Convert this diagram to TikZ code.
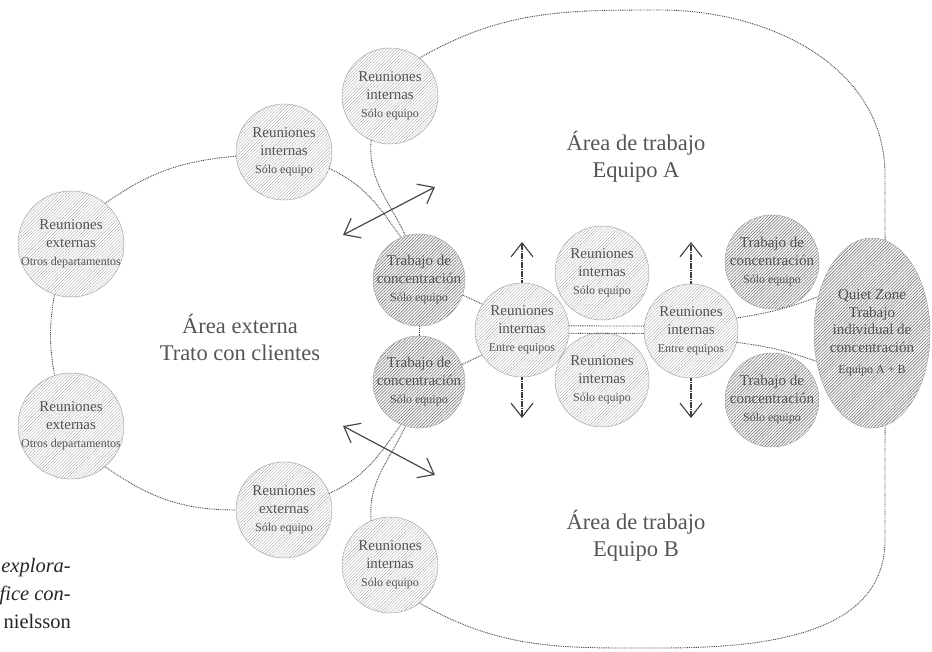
\documentclass[tikz,border=0pt]{standalone}
\usepackage{fontspec}
\setmainfont{Liberation Serif}
\usetikzlibrary{arrows.meta,patterns.meta,shapes.geometric}
\definecolor{txt}{HTML}{555555}
\definecolor{lnc}{HTML}{484848}
\definecolor{arc}{HTML}{3C3C3C}
\newcommand\smtxt{\fontsize{12}{14}\selectfont}
\tikzset{
  basec/.style={circle, draw=black!35, line width=0.5pt, inner sep=0pt},
  lc/.style={basec, pattern={Lines[angle=45,distance=2.2pt,line width=0.4pt]}, pattern color=black!32},
  dc/.style={basec, pattern={Lines[angle=45,distance=2.2pt,line width=0.75pt]}, pattern color=black!48},
  ct/.style={align=center, text=txt, font=\fontsize{15}{18}\selectfont, inner sep=0pt},
  ttl/.style={align=center, text=txt, font=\fontsize{22.5}{27}\selectfont, inner sep=0pt},
  captxt/.style={text=black!85, font=\fontsize{20.5}{24}\selectfont, inner sep=0pt},
  dotl/.style={draw=lnc, line width=0.9pt, dash pattern=on 0.9pt off 0.9pt},
  varr/.style={draw=arc, line width=1.4pt, dash pattern=on 1.3pt off 0.5pt, -{Straight Barb[length=14pt,width=22pt,line width=1.1pt]}},
  darr/.style={draw=lnc, line width=1.2pt, {Straight Barb[length=14pt,width=22pt]}-{Straight Barb[length=14pt,width=22pt]}},
}
\begin{document}
\begin{tikzpicture}[x=1pt,y=1pt]
\useasboundingbox (0,0) rectangle (932,651);

% circles
\node[lc, minimum size=106pt] (ro1) at (71,407) {};
\node[lc, minimum size=106pt] (ro2) at (71,225) {};
\node[lc, minimum size=96pt] (ril) at (284,499) {};
\node[lc, minimum size=96pt] (rel) at (284,141) {};
\node[lc, minimum size=96pt] (rt) at (390,555) {};
\node[lc, minimum size=96pt] (rb) at (390,86) {};
\node[dc, minimum size=92pt] (tc1) at (419,371) {};
\node[dc, minimum size=92pt] (tc2) at (419,269) {};
\node[lc, minimum size=94pt] (re1) at (522,321) {};
\node[lc, minimum size=94pt] (re2) at (691,320) {};
\node[lc, minimum size=94pt] (rc1) at (602,378) {};
\node[lc, minimum size=94pt] (rc2) at (602,271) {};
\node[dc, minimum size=94pt] (tc3) at (772,389) {};
\node[dc, minimum size=94pt] (tc4) at (772,251) {};
\node[dc, ellipse, minimum width=116pt, minimum height=190pt] (qz) at (872,318) {};

% texts in circles
\node[ct] (ro1t) at (ro1) {Reuniones\\externas\\{\smtxt Otros departamentos}};
\node[ct] (ro2t) at (ro2) {Reuniones\\externas\\{\smtxt Otros departamentos}};
\node[ct] (rilt) at (ril) {Reuniones\\internas\\{\smtxt Sólo equipo}};
\node[ct] (relt) at (rel) {Reuniones\\externas\\{\smtxt Sólo equipo}};
\node[ct] (rtt) at (rt) {Reuniones\\internas\\{\smtxt Sólo equipo}};
\node[ct] (rbt) at (rb) {Reuniones\\internas\\{\smtxt Sólo equipo}};
\node[ct] (tc1t) at (tc1) {Trabajo de\\concentración\\{\smtxt Sólo equipo}};
\node[ct] (tc2t) at (tc2) {Trabajo de\\concentración\\{\smtxt Sólo equipo}};
\node[ct] (re1t) at (re1) {Reuniones\\internas\\{\smtxt Entre equipos}};
\node[ct] (re2t) at (re2) {Reuniones\\internas\\{\smtxt Entre equipos}};
\node[ct] (rc1t) at (rc1) {Reuniones\\internas\\{\smtxt Sólo equipo}};
\node[ct] (rc2t) at (rc2) {Reuniones\\internas\\{\smtxt Sólo equipo}};
\node[ct] (tc3t) at (tc3) {Trabajo de\\concentración\\{\smtxt Sólo equipo}};
\node[ct] (tc4t) at (tc4) {Trabajo de\\concentración\\{\smtxt Sólo equipo}};
\node[ct, font=\fontsize{15}{17.5}\selectfont] (qzt) at (qz) {Quiet Zone\\Trabajo\\individual de\\concentración\\[4pt]{\smtxt Equipo A + B}};

% area titles
\node[ttl] (ae) at (240,314) {Área externa\\Trato con clientes};
\node[ttl] (aa) at (636,494) {Área de trabajo\\Equipo A};
\node[ttl] (ab) at (636,115) {Área de trabajo\\Equipo B};

% caption fragment
\node[captxt, anchor=base east] (c1) at (71,78) {\itshape explora-};
\node[captxt, anchor=base east] (c2) at (71,51) {\itshape fice con-};
\node[captxt, anchor=base east] (c3) at (71,23) {nielsson};

% dotted connectors (outer ring)
\draw[dotl] (ril.185) to[out=185,in=35] (ro1.50);
\draw[dotl] (ro1.-108) to[out=-100,in=100] (ro2.108);
\draw[dotl] (ro2.-50) to[out=-35,in=180] (rel.180);
\draw[dotl] (ril.-20) to[out=-25,in=125] (tc1.113);
\draw[dotl] (rt.-113) to[out=-95,in=115] (tc1.107);
\draw[dotl] (rel.20) to[out=25,in=-125] (tc2.-113);
\draw[dotl] (rb.113) to[out=95,in=-115] (tc2.-107);
\draw[dotl] (tc1.south) -- (tc2.north);
\draw[dotl] (tc1.-19) -- (re1.147);
\draw[dotl] (tc2.22) -- (re1.-148);
\draw[dotl] (re1.5) -- (re2.174);
\draw[dotl] (re1.-4) -- (re2.-177);
\draw[dotl] (re2.16) to[bend right=6] (qz.146);
\draw[dotl] (re2.-14) to[bend left=6] (qz.-153);

% outer loops
\coordinate (atop) at (660,641);
\coordinate (aright) at (885,476);
\coordinate (bbot) at (660,3);
\coordinate (bright) at (885,111);
\draw[dotl] (rt.52) to[out=30,in=180] (atop) to[out=0,in=90] (aright) -- (qz.82);
\draw[dotl] (rb.-52) to[out=-30,in=180] (bbot) to[out=0,in=-90] (bright) -- (qz.-82);

% vertical arrows
\coordinate (re1u) at (522,409);
\coordinate (re1d) at (522,233);
\coordinate (re2u) at (691,409);
\coordinate (re2d) at (691,233);
\draw[varr] (re1.north) -- (re1u);
\draw[varr] (re1.south) -- (re1d);
\draw[varr] (re2.north) -- (re2u);
\draw[varr] (re2.south) -- (re2d);

% double arrows
\coordinate (da1) at (343,416);
\coordinate (da2) at (435,464);
\coordinate (db1) at (343,225);
\coordinate (db2) at (435,176);
\draw[darr] (da1) -- (da2);
\draw[darr] (db1) -- (db2);
\end{tikzpicture}
\end{document}
